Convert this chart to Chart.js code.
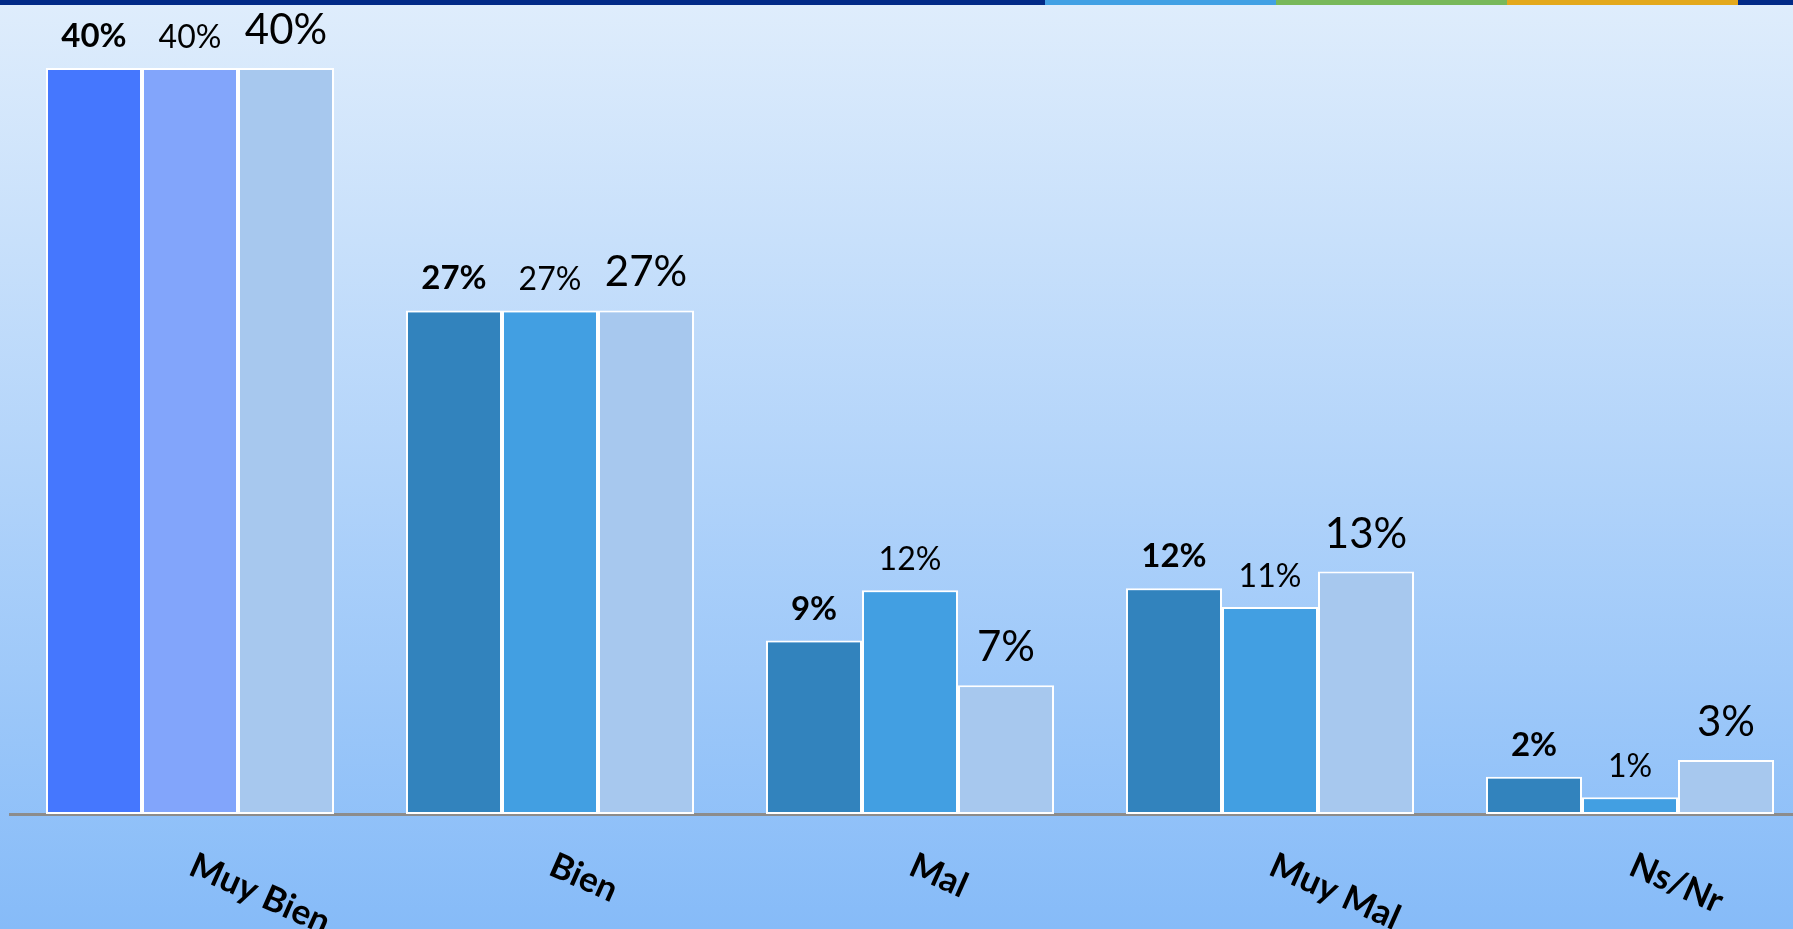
<!DOCTYPE html>
<html>
<head>
<meta charset="utf-8">
<script src="https://cdn.jsdelivr.net/npm/chart.js@4.4.1/dist/chart.umd.min.js"></script>
<style>
  html, body { margin:0; padding:0; width:1793px; height:929px; overflow:hidden; }
  body { background: linear-gradient(to bottom, #DFEDFC 0%, #86BBF8 100%); position:relative; font-family: Lato, sans-serif; }
  #stripe { position:absolute; left:0; top:0; width:1793px; height:5px; display:flex; z-index:2; }
  #stripe div { height:5px; }
  #wrap { position:absolute; left:0; top:0; width:1810px; height:929px; }
</style>
</head>
<body>
<div id="stripe">
  <div style="width:1045px;background:#012A87"></div>
  <div style="width:231px;background:#41A0E4"></div>
  <div style="width:231px;background:#78B85A"></div>
  <div style="width:231px;background:#E3A81C"></div>
  <div style="width:55px;background:#012A87"></div>
</div>
<div id="wrap"><canvas id="c" width="1810" height="929"></canvas></div>
<script>
const categories = ['Muy Bien', 'Bien', 'Mal', 'Muy Mal', 'Ns/Nr'];
const serie1 = [40, 27, 9.3, 12.1, 2.0];
const serie2 = [40, 27, 12, 11.1, 0.9];
const serie3 = [40, 27, 6.9, 13, 2.9];

const colors1 = ['#4577FE', '#3283BD', '#3283BD', '#3283BD', '#3283BD'];
const colors2 = ['#82A5FB', '#429FE2', '#429FE2', '#429FE2', '#429FE2'];
const colors3 = ['#A7C8EE', '#A7C8EE', '#A7C8EE', '#A7C8EE', '#A7C8EE'];

const labelFonts = ['bold 33px Lato', '32px Lato', '42px Lato'];
const labelGaps = [21, 20, 24];

const valueLabels = {
  id: 'valueLabels',
  afterDatasetsDraw(chart) {
    const ctx = chart.ctx;
    ctx.save();
    ctx.fillStyle = '#000';
    ctx.textAlign = 'center';
    ctx.textBaseline = 'alphabetic';
    chart.data.datasets.forEach((ds, i) => {
      const meta = chart.getDatasetMeta(i);
      ctx.font = labelFonts[i];
      meta.data.forEach((bar, j) => {
        ctx.fillText(Math.round(ds.data[j]) + '%', bar.x, bar.y - labelGaps[i]);
      });
    });
    ctx.restore();
  }
};

const categoryLabels = {
  id: 'categoryLabels',
  afterDraw(chart) {
    const ctx = chart.ctx;
    const xs = chart.scales.x;
    ctx.save();
    ctx.fillStyle = '#000';
    ctx.font = 'bold 35px Lato';
    ctx.textAlign = 'left';
    ctx.textBaseline = 'alphabetic';
    chart.data.labels.forEach((lab, i) => {
      const x = xs.getPixelForTick(i);
      ctx.save();
      ctx.translate(x - 3, xs.top + 60);
      ctx.rotate(24 * Math.PI / 180);
      ctx.fillText(lab, 0, 0);
      ctx.restore();
    });
    ctx.restore();
  }
};

new Chart(document.getElementById('c'), {
  type: 'bar',
  data: {
    labels: categories,
    datasets: [
      { data: serie1, backgroundColor: colors1 },
      { data: serie2, backgroundColor: colors2 },
      { data: serie3, backgroundColor: colors3 }
    ]
  },
  options: {
    responsive: false,
    animation: false,
    devicePixelRatio: 1,
    layout: { padding: { top: 68, left: 10, right: 0, bottom: 0 } },
    datasets: {
      bar: {
        categoryPercentage: 0.8,
        barPercentage: 1.0,
        borderColor: '#FFFFFF',
        borderWidth: 2,
        borderSkipped: false
      }
    },
    plugins: { legend: { display: false }, tooltip: { enabled: false } },
    scales: {
      x: {
        z: 1,
        grid: { display: false },
        ticks: { display: false },
        border: { display: true, color: '#8C8C8C', width: 3 },
        afterFit(scale) { scale.height = 115; }
      },
      y: {
        display: false,
        min: 0,
        max: 40
      }
    }
  },
  plugins: [valueLabels, categoryLabels]
});
</script>
</body>
</html>
